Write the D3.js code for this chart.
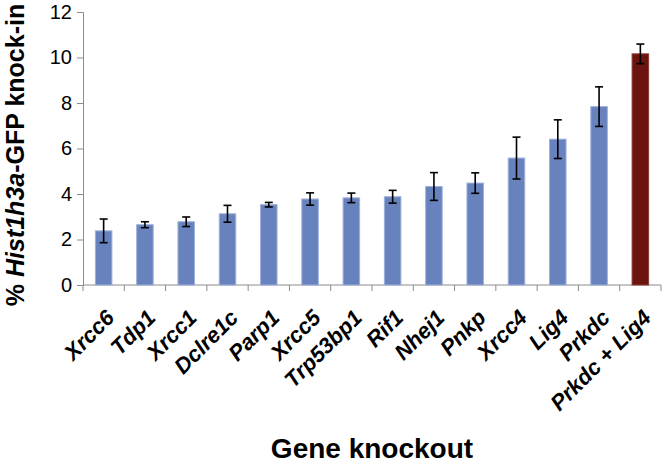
<!DOCTYPE html>
<html>
<head>
<meta charset="utf-8">
<script src="https://d3js.org/d3.v7.min.js"></script>
<style>
  body { margin: 0; background: white; }
  text { font-family: Arial, "Liberation Sans", sans-serif; }
</style>
</head>
<body>
<script>
var genes = ["Xrcc6", "Tdp1", "Xrcc1", "Dclre1c", "Parp1", "Xrcc5", "Trp53bp1",
             "Rif1", "Nhej1", "Pnkp", "Xrcc4", "Lig4", "Prkdc", "Prkdc + Lig4"];
var knockIn = [2.38, 2.65, 2.78, 3.13, 3.53, 3.78, 3.83, 3.88, 4.33, 4.48, 5.58, 6.41, 7.84, 10.16];
var errors = [0.52, 0.13, 0.21, 0.37, 0.10, 0.27, 0.21, 0.28, 0.61, 0.45, 0.92, 0.85, 0.87, 0.43];
var yTicks = [0, 2, 4, 6, 8, 10, 12];

var screen = {width: 664, height: 466}
var margin = {left: 83, right: 3, top: 12, bottom: 181}

var svg = d3.select("body")
            .append("svg")
            .attr("width", screen.width)
            .attr("height", screen.height);

var x = d3.scaleBand()
          .domain(genes)
          .range([margin.left, screen.width - margin.right])
          .paddingInner(0.6)
          .paddingOuter(0.3);

var y = d3.scaleLinear()
          .domain([0, 12])
          .range([screen.height - margin.bottom, margin.top]);

var axisColor = "#8c8c8c";

// y axis
var yAxis = svg.append("g")
               .attr("transform", "translate(" + margin.left + ",0)")
               .call(d3.axisLeft(y).tickValues(yTicks).tickSize(6).tickPadding(5));

yAxis.select(".domain").attr("stroke", axisColor);
yAxis.selectAll(".tick line").attr("stroke", axisColor);
yAxis.selectAll(".tick text")
     .attr("font-size", 20)
     .attr("fill", "black");

// x axis, ticks sit on the category boundaries
var step = x.step();
var bounds = d3.range(genes.length + 1).map(function(i) { return margin.left + i * step; });

svg.append("line")
   .attr("x1", margin.left)
   .attr("x2", screen.width - margin.right)
   .attr("y1", y(0))
   .attr("y2", y(0))
   .attr("stroke", axisColor);

svg.selectAll(".xtick")
   .data(bounds)
   .enter()
   .append("line")
   .attr("class", "xtick")
   .attr("x1", function(d) { return d; })
   .attr("x2", function(d) { return d; })
   .attr("y1", y(0))
   .attr("y2", y(0) + 6)
   .attr("stroke", axisColor);

// bars
svg.selectAll(".bar")
   .data(genes)
   .enter()
   .append("rect")
   .attr("class", "bar")
   .attr("x", function(d) { return x(d); })
   .attr("y", function(d, i) { return y(knockIn[i]); })
   .attr("width", x.bandwidth())
   .attr("height", function(d, i) { return y(0) - y(knockIn[i]); })
   .attr("fill", function(d, i) { return i == genes.length - 1 ? "#6b1410" : "#6782bd"; })
   .attr("stroke", function(d, i) { return i == genes.length - 1 ? "#8a3a35" : "#9db0da"; })
   .attr("stroke-width", 1);

// error bars
var errs = svg.append("g")
              .selectAll("g")
              .data(genes)
              .enter()
              .append("g")
              .attr("stroke", "black")
              .attr("stroke-width", 1.6);

errs.append("line")
    .attr("x1", function(d) { return x(d) + x.bandwidth() / 2; })
    .attr("x2", function(d) { return x(d) + x.bandwidth() / 2; })
    .attr("y1", function(d, i) { return y(knockIn[i] + errors[i]); })
    .attr("y2", function(d, i) { return y(knockIn[i] - errors[i]); });

errs.append("line")
    .attr("x1", function(d) { return x(d) + x.bandwidth() / 2 - 4; })
    .attr("x2", function(d) { return x(d) + x.bandwidth() / 2 + 4; })
    .attr("y1", function(d, i) { return y(knockIn[i] + errors[i]); })
    .attr("y2", function(d, i) { return y(knockIn[i] + errors[i]); });

errs.append("line")
    .attr("x1", function(d) { return x(d) + x.bandwidth() / 2 - 4; })
    .attr("x2", function(d) { return x(d) + x.bandwidth() / 2 + 4; })
    .attr("y1", function(d, i) { return y(knockIn[i] - errors[i]); })
    .attr("y2", function(d, i) { return y(knockIn[i] - errors[i]); });

// category labels, rotated
svg.selectAll(".glabel")
   .data(genes)
   .enter()
   .append("text")
   .attr("class", "glabel")
   .attr("transform", function(d) {
     return "translate(" + (x(d) + x.bandwidth() / 2 + 12) + "," + (y(0) + 34) + ") rotate(-45)";
   })
   .attr("text-anchor", "end")
   .attr("font-size", 22)
   .attr("font-weight", "bold")
   .attr("font-style", "italic")
   .text(function(d) { return d; });

// axis titles
svg.append("text")
   .attr("x", (margin.left + screen.width - margin.right) / 2)
   .attr("y", 458)
   .attr("text-anchor", "middle")
   .attr("font-size", 28)
   .attr("font-weight", "bold")
   .text("Gene knockout");

var yTitle = svg.append("text")
                .attr("transform", "translate(24,155) rotate(-90)")
                .attr("text-anchor", "middle")
                .attr("font-size", 25)
                .attr("font-weight", "bold");

yTitle.append("tspan").text("% ");
yTitle.append("tspan").attr("font-style", "italic").text("Hist1h3a");
yTitle.append("tspan").text("-GFP knock-in");
</script>
</body>
</html>
